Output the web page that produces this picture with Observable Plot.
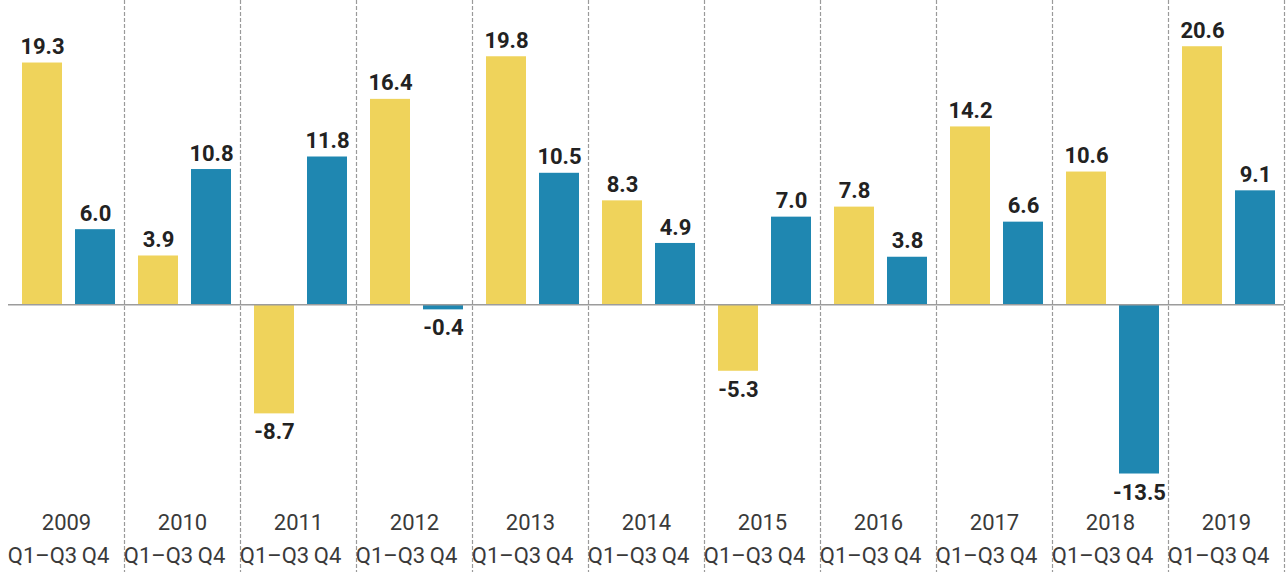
<!DOCTYPE html>
<html><head><meta charset="utf-8">
<script src="https://cdn.jsdelivr.net/npm/d3@7"></script>
<script src="https://cdn.jsdelivr.net/npm/@observablehq/plot@0.6"></script>
<style>body{margin:0;background:#fff}</style>
</head><body><div id="chart"></div>
<script>
const years = ["2009","2010","2011","2012","2013","2014","2015","2016","2017","2018","2019"];
const periods = ["Q1–Q3","Q4"];
const q1q3 = [19.3, 3.9, -8.7, 16.4, 19.8, 8.3, -5.3, 7.8, 14.2, 10.6, 20.6];
const q4 = [6.0, 10.8, 11.8, -0.4, 10.5, 4.9, 7.0, 3.8, 6.6, -13.5, 9.1];
const colors = ["#EFD35B", "#1F87B1"];

const data = years.flatMap((y, i) => [
  {year: y, period: periods[0], value: q1q3[i]},
  {year: y, period: periods[1], value: q4[i]}
]);

const labelStyle = {fontSize: 22, fontWeight: "bold", fill: "#222"};
const axisText = {fontSize: 22, fill: "#3a3a3a"};

const chart = Plot.plot({
  width: 1286, height: 572,
  marginLeft: 6, marginRight: 0, marginTop: 0, marginBottom: 0,
  style: {fontFamily: "Roboto, sans-serif", background: "#fff"},
  fx: {domain: years, padding: 0, axis: null},
  x: {domain: periods, paddingInner: 0.2523, paddingOuter: 0.214, align: 0.61, axis: null},
  y: {domain: [-21.36, 24.29], axis: null},
  color: {domain: periods, range: colors},
  marks: [
    Plot.frame({anchor: "right", stroke: "#9a9a9a", strokeWidth: 1.2, strokeDasharray: "3,3"}),
    Plot.barY(data, {fx: "year", x: "period", y: "value", fill: "period"}),
    Plot.ruleY([0], {stroke: "#9c9c9c", strokeWidth: 1.5}),
    Plot.text(data.filter(d => d.value >= 0), {fx: "year", x: "period", y: "value", text: d => d.value.toFixed(1), dy: -16, ...labelStyle}),
    Plot.text(data.filter(d => d.value < 0), {fx: "year", x: "period", y: "value", text: d => d.value.toFixed(1), dy: 18.5, ...labelStyle}),
    Plot.text(years, {fx: d => d, frameAnchor: "bottom", dy: -43, text: d => d, ...axisText}),
    Plot.text(data, {fx: "year", x: "period", frameAnchor: "bottom", dy: -10, text: "period", ...axisText})
  ]
});
document.getElementById("chart").append(chart);
</script>
</body></html>
